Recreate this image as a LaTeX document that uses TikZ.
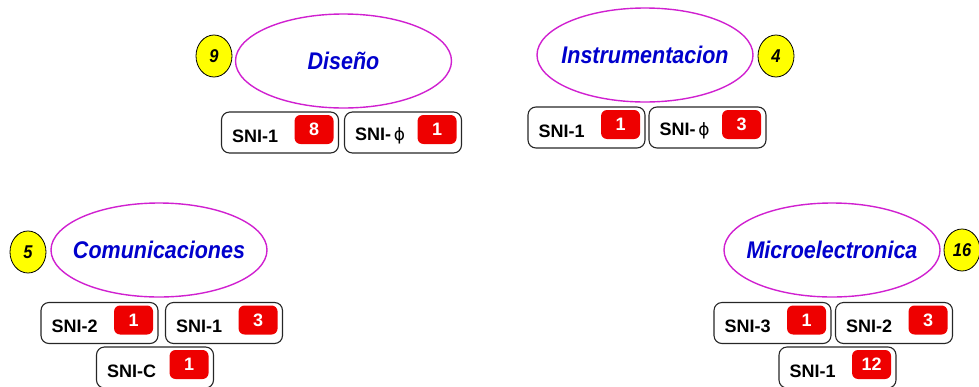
\documentclass[tikz,border=0pt]{standalone}
\usepackage{fontspec}
\usepackage{graphicx}
\setmainfont{Liberation Sans}
\newfontfamily\dejavu{DejaVu Sans}
\usetikzlibrary{shapes.geometric}
\definecolor{mag}{HTML}{D020D0}
\definecolor{tblue}{HTML}{0000CC}
\definecolor{bred}{HTML}{EE0000}
\definecolor{ylw}{HTML}{FFFF00}
\tikzset{
 area/.style={ellipse, draw=mag, line width=1.4pt, minimum width=216pt, minimum height=94pt, inner sep=0pt},
 areatext/.style={inner sep=0pt, text=tblue, font=\fontsize{21.5}{24}\selectfont\bfseries\itshape},
 count/.style={ellipse, draw=black, fill=ylw, line width=0.8pt, minimum width=36pt, minimum height=42pt, inner sep=0pt, font=\fontsize{16.5}{18}\selectfont\bfseries\itshape},
 snibox/.style={rectangle, rounded corners=8pt, draw=black!85, line width=1.1pt, minimum width=117pt, minimum height=41pt, inner sep=0pt},
 snitext/.style={anchor=west, inner sep=0pt, font=\fontsize{18}{20}\selectfont\bfseries},
 badge/.style={rectangle, rounded corners=6pt, fill=bred, text=white, minimum width=39pt, minimum height=29pt, inner sep=0pt, font=\fontsize{18}{20}\selectfont\bfseries},
}
\newcommand\tallt[1]{\scalebox{1}[1.12]{#1}}
\newcommand\phisym{{\dejavu\mdseries\fontsize{17}{20}\selectfont\,ϕ}}
\newcommand\snientry[5]{%
 \node[snibox] (#1) at (#2,#3) {};
 \node[snitext] (#1-t) at ([xshift=11pt,yshift=-3.5pt]#1.west) {#4};
 \node[badge] (#1-b) at ([xshift=-25pt,yshift=3pt]#1.east) {#5};
}
\newcommand\areaentry[4]{%
 \node[area] (#1) at (#2,#3) {};
 \node[areatext] (#1-t) at (#1.center) {\tallt{#4}};
}
\begin{document}
\begin{tikzpicture}[x=1pt,y=-1pt]
\useasboundingbox (0,0) rectangle (979,386);
% Diseno
\areaentry{dis}{343.5}{61}{Diseño}
\node[count] (dis-n) at (214,56) {\tallt{9}};
\snientry{dis1}{280}{132.5}{SNI-1}{8}
\snientry{dis0}{403}{132.5}{SNI-\phisym}{1}
% Instrumentacion
\areaentry{ins}{645}{55}{Instrumentacion}
\node[count] (ins-n) at (776,56) {\tallt{4}};
\snientry{ins1}{586.5}{127.5}{SNI-1}{1}
\snientry{ins0}{707.5}{127.5}{SNI-\phisym}{3}
% Comunicaciones
\areaentry{com}{159}{250}{Comunicaciones}
\node[count] (com-n) at (28,252) {\tallt{5}};
\snientry{com2}{99.5}{323}{SNI-2}{1}
\snientry{com1}{224}{323}{SNI-1}{3}
\snientry{comc}{155}{367.5}{SNI-C}{1}
% Microelectronica
\areaentry{mic}{832}{250}{Microelectronica}
\node[count] (mic-n) at (962,250) {\tallt{16}};
\snientry{mic3}{772.5}{323}{SNI-3}{1}
\snientry{mic2}{894}{323}{SNI-2}{3}
\snientry{mic1}{837.5}{367.5}{SNI-1}{12}
\end{tikzpicture}
\end{document}
